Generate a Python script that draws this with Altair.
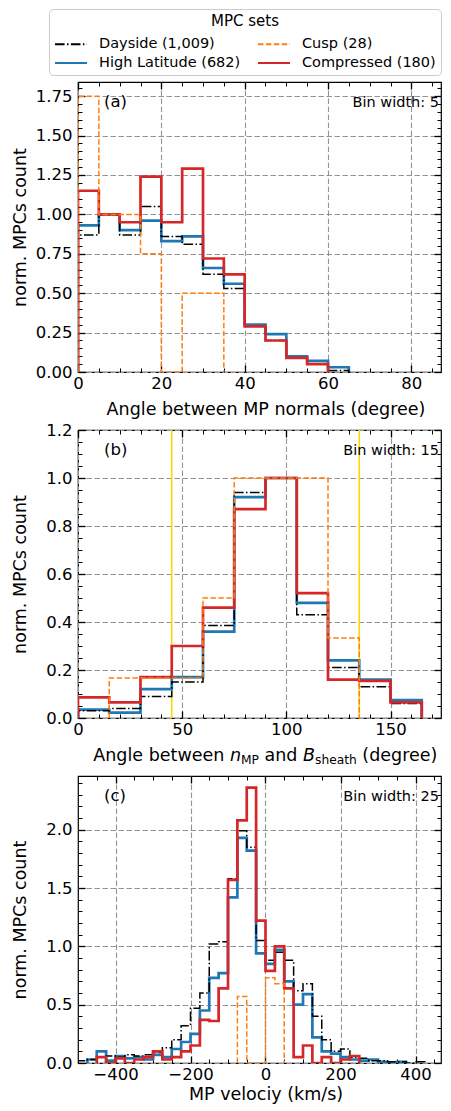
import altair as alt
import pandas as pd

FONT = "DejaVu Sans"

# ---------------- legend / series styling ----------------
SETS = ["Dayside (1,009)", "High Latitude (682)", "Cusp (28)", "Compressed (180)"]
SET_COLORS = ["#000000", "#1f77b4", "#ff7f0e", "#d62728"]
SET_DASHES = [[9.6, 2.4, 1.5, 2.4], [1, 0], [5.5, 2.4], [1, 0]]
SET_WIDTHS = {"Dayside (1,009)": 1.5, "Cusp (28)": 1.5,
              "High Latitude (682)": 2.7, "Compressed (180)": 2.7}
DRAW_ORDER = ["High Latitude (682)", "Dayside (1,009)", "Compressed (180)", "Cusp (28)"]

# ---------------- panel (a): angle between MP normals, bin 5 ----------------
A_EDGE0, A_BINW = 0, 5
A_DAYSIDE = [0.87, 1.00, 0.87, 1.05, 0.86, 0.81, 0.62, 0.53, 0.29, 0.20, 0.09, 0.05, 0.01]
A_HIGHLAT = [0.93, 1.00, 0.90, 0.96, 0.83, 0.86, 0.66, 0.56, 0.30, 0.24, 0.10, 0.07, 0.03]
A_CUSP = [1.75, 1.00, 1.00, 0.75, 0.00, 0.50, 0.50]
A_COMPRESSED = [1.15, 1.00, 0.95, 1.24, 0.95, 1.29, 0.72, 0.62, 0.29, 0.20, 0.09, 0.05]

# ---------------- panel (b): angle between n_MP and B_sheath, bin 15 ----------------
B_EDGE0, B_BINW = 0, 15
B_DAYSIDE = [0.03, 0.04, 0.09, 0.15, 0.385, 0.94, 1.00, 0.43, 0.21, 0.13, 0.06]
B_HIGHLAT = [0.035, 0.022, 0.12, 0.17, 0.36, 0.92, 1.00, 0.48, 0.24, 0.16, 0.075]
B_CUSP = [0.0, 0.167, 0.167, 0.167, 0.50, 1.00, 1.00, 1.00, 0.333]
B_COMPRESSED = [0.086, 0.065, 0.17, 0.30, 0.46, 0.87, 1.00, 0.52, 0.16, 0.155, 0.065]
B_MARKERS = [45, 135]

# ---------------- panel (c): MP velocity, bin 25 (-500 .. 500) ----------------
C_EDGE0, C_BINW = -500, 25
C_DAYSIDE = [0.02, 0.03, 0.05, 0.06, 0.05, 0.07, 0.06, 0.07, 0.09, 0.13,
             0.20, 0.32, 0.47, 0.60, 1.02, 1.04, 1.58, 1.99, 1.85, 1.05,
             0.88, 0.95, 0.88, 0.62, 0.68, 0.40, 0.20, 0.10, 0.12, 0.05,
             0.04, 0.02, 0.02, 0.01, 0.01, 0.00, 0.01, 0.00, 0.00, 0.00]
C_HIGHLAT = [0.00, 0.03, 0.10, 0.02, 0.06, 0.04, 0.05, 0.03, 0.07, 0.05,
             0.12, 0.18, 0.25, 0.45, 0.73, 0.77, 1.42, 1.93, 1.82, 0.94,
             0.85, 0.97, 0.70, 0.50, 0.59, 0.22, 0.10, 0.08, 0.05, 0.03,
             0.02, 0.03, 0.01, 0.00, 0.01, 0.00, 0.00, 0.00, 0.00, 0.00]
C_CUSP = [0.00, 0.00, 0.00, 0.00, 0.00, 0.00, 0.00, 0.00, 0.00, 0.00,
          0.00, 0.00, 0.00, 0.00, 0.00, 0.00, 0.00, 0.57, 0.00, 0.00,
          0.73, 0.68, 0.00, 0.00, 0.00, 0.00, 0.00, 0.00, 0.00, 0.00,
          0.00, 0.00, 0.00, 0.00, 0.00, 0.00, 0.00, 0.00, 0.00, 0.00]
C_COMPRESSED = [0.00, 0.00, 0.05, 0.00, 0.04, 0.00, 0.03, 0.05, 0.10, 0.03,
                0.05, 0.10, 0.15, 0.37, 0.36, 0.64, 1.57, 2.08, 2.36, 1.22,
                0.79, 1.00, 0.64, 0.05, 0.15, 0.00, 0.05, 0.00, 0.03, 0.06,
                0.00, 0.00, 0.00, 0.00, 0.00, 0.00, 0.00, 0.00, 0.00, 0.00]

W = 363
H_A, H_B, H_C = 290, 288, 287

# DejaVu Sans advance widths (font units / 2048) for the rich panel (b) title
ADV = {"A": 1401, "n": 1298, "g": 1300, "l": 569, "e": 1260, "b": 1300, "t": 803,
       "w": 1675, "M": 1767, "P": 1235, "a": 1255, "d": 1300, "s": 1067, "h": 1298,
       "B": 1405, "(": 799, "r": 842, ")": 799, " ": 651}


def tw(s, size):
    return sum(ADV[c] for c in s) / 2048.0 * size


color_scale = alt.Scale(domain=SETS, range=SET_COLORS)
dash_scale = alt.Scale(domain=SETS, range=SET_DASHES)
LEGEND = alt.Legend(
    title="MPC sets", orient="none", legendX=-29, legendY=-73, offset=-5, columns=2,
    symbolType="M-1,0H2.2", symbolSize=400, symbolStrokeWidth=2, symbolOpacity=1,
    labelOffset=23, columnPadding=13, rowPadding=1, padding=5,
    strokeColor="#cccccc", cornerRadius=4, fillColor="white",
    titleAnchor="middle", titleFontSize=15, titleFontWeight="normal", titleFont=FONT,
    titleColor="black", titlePadding=4, labelFont=FONT, labelFontSize=14.5,
    labelColor="black", labelLimit=400)


def step_rows(edge0, binw, values, name):
    nz = [i for i, v in enumerate(values) if v > 0]
    i0, i1 = nz[0], nz[-1]
    rows = [dict(x=edge0 + i0 * binw, y=0.0, o=0, set=name)]
    for k, i in enumerate(range(i0, i1 + 1)):
        rows.append(dict(x=edge0 + i * binw, y=values[i], o=k + 1, set=name))
    rows.append(dict(x=edge0 + (i1 + 1) * binw, y=0.0, o=i1 - i0 + 2, set=name))
    return rows


def text_layer(txt, x, y, size, align="left", style="normal", baseline="alphabetic"):
    return alt.Chart(pd.DataFrame({"k": [1]})).mark_text(
        align=align, baseline=baseline, font=FONT, fontSize=size, fontStyle=style,
        color="black").encode(x=alt.value(x), y=alt.value(y), text=alt.value(txt))


def make_panel(series, edge0, binw, xdom, ydom, xmaj, xmin, ymaj, ymin, yfmt,
               xtitle, tag, binlabel, H, title_y=42, extra=()):
    rows = []
    for name, vals in series.items():
        rows += step_rows(edge0, binw, vals, name)
    df = pd.DataFrame(rows)
    xs = alt.Scale(domain=xdom, nice=False, zero=False)
    ys = alt.Scale(domain=ydom, nice=False, zero=False)
    dummy = pd.DataFrame({"x": [xdom[0]], "y": [ydom[0]]})

    def ax_layer(xaxis, yaxis):
        return alt.Chart(dummy).mark_point(opacity=0).encode(
            x=alt.X("x:Q", scale=xs, axis=xaxis),
            y=alt.Y("y:Q", scale=ys, axis=yaxis))

    main_x = dict(orient="bottom", values=xmaj, format="d", grid=True, gridColor="#939393",
                  gridDash=[5.5, 2.5], gridWidth=1.1, ticks=False, tickSize=0, domain=False,
                  labelPadding=3, labelFontSize=16.5, labelFont=FONT, labelColor="black",
                  labelFlush=False, titleFont=FONT, titleFontSize=17.5,
                  titleFontWeight="normal", titleColor="black", titleY=title_y,
                  titleX=187.5, titleAlign="center", titleBaseline="alphabetic")
    main_x["title"] = xtitle if xtitle else None
    main_y = dict(orient="left", values=ymaj, format=yfmt, grid=True, gridColor="#939393",
                  gridDash=[5.5, 2.5], gridWidth=1.1, ticks=False, tickSize=0, domain=False,
                  labelPadding=6, labelFontSize=16.5, labelFont=FONT, labelColor="black",
                  title="norm. MPCs count", titleFont=FONT, titleFontSize=17.5,
                  titleFontWeight="normal", titleColor="black", titleX=-49, titleY=H / 2,
                  titleAngle=270, titleAlign="center", titleBaseline="bottom")

    def tick_axis(orient, values, size, width):
        return alt.Axis(orient=orient, values=values, labels=False, grid=False, domain=False,
                        ticks=True, tickSize=size, offset=-size, tickWidth=width,
                        tickColor="black", title=None)

    layers = [
        ax_layer(alt.Axis(**main_x), alt.Axis(**main_y)),
        ax_layer(tick_axis("bottom", xmaj, 7, 1.3), tick_axis("left", ymaj, 7, 1.3)),
        ax_layer(tick_axis("bottom", xmin, 4, 1.0), tick_axis("left", ymin, 4, 1.0)),
        ax_layer(tick_axis("top", xmaj, 7, 1.3), tick_axis("right", ymaj, 7, 1.3)),
        ax_layer(tick_axis("top", xmin, 4, 1.0), tick_axis("right", ymin, 4, 1.0)),
    ]
    layers += [e(xs, ys) for e in extra]
    for name in DRAW_ORDER:
        if name not in series:
            continue
        layers.append(
            alt.Chart(df).transform_filter(alt.FieldEqualPredicate(field="set", equal=name))
            .mark_line(interpolate="step-after", strokeWidth=SET_WIDTHS[name], clip=True)
            .encode(
                x=alt.X("x:Q", scale=xs, axis=None),
                y=alt.Y("y:Q", scale=ys, axis=None),
                order=alt.Order("o:Q"),
                color=alt.Color("set:N", scale=color_scale, legend=LEGEND),
                strokeDash=alt.StrokeDash("set:N", scale=dash_scale, legend=LEGEND),
            ))
    layers.append(text_layer(tag, 26, 24.5, 16.5))
    layers.append(text_layer(binlabel, W - 2, 24.5, 14.5, align="right"))
    return alt.layer(*layers).resolve_axis(x="independent", y="independent").properties(
        width=W, height=H)


def minors(step, top, majors_every):
    out = []
    i = 1
    while step * i < top - 1e-9:
        if i % majors_every != 0:
            out.append(round(step * i, 4))
        i += 1
    return out


# ---- panel (a)
pa = make_panel(
    {"Dayside (1,009)": A_DAYSIDE, "High Latitude (682)": A_HIGHLAT,
     "Cusp (28)": A_CUSP, "Compressed (180)": A_COMPRESSED},
    A_EDGE0, A_BINW, [0, 87.12], [0, 1.84],
    [0, 20, 40, 60, 80], [v for v in range(5, 87, 5) if v % 20 != 0],
    [0, 0.25, 0.5, 0.75, 1.0, 1.25, 1.5, 1.75], minors(0.05, 1.84, 5), ".2f",
    "Angle between MP normals (degree)", "(a)", "Bin width: 5", H_A, title_y=42)


# ---- panel (b): yellow marker lines + rich-text x title
def marker_rules(xs, ys):
    return alt.Chart(pd.DataFrame({"x": B_MARKERS})).mark_rule(
        color="#FFD700", strokeWidth=1.6).encode(x=alt.X("x:Q", scale=xs, axis=None))


pb = make_panel(
    {"Dayside (1,009)": B_DAYSIDE, "High Latitude (682)": B_HIGHLAT,
     "Cusp (28)": B_CUSP, "Compressed (180)": B_COMPRESSED},
    B_EDGE0, B_BINW, [0, 174.24], [0, 1.2],
    [0, 50, 100, 150], [v for v in range(10, 174, 10) if v % 50 != 0],
    [0, 0.2, 0.4, 0.6, 0.8, 1.0, 1.2], minors(0.05, 1.2, 4), ".1f",
    None, "(b)", "Bin width: 15", H_B, extra=(marker_rules,))

TS, SS = 17.5, 12.25
segments = [("Angle between", "normal", TS, 0, True),
            ("n", "italic", TS, 0, False),
            ("MP", "normal", SS, 3, True),
            ("and", "normal", TS, 0, True),
            ("B", "italic", TS, 0, False),
            ("sheath", "normal", SS, 3, True),
            ("(degree)", "normal", TS, 0, False)]
space = tw(" ", TS)
total = 0
for s, st, sz, dy, sp in segments:
    total += tw(s, sz) + (space if sp else 0)
xpos = (375 - total) / 2
title_layers = []
for s, st, sz, dy, sp in segments:
    title_layers.append(text_layer(s, xpos, H_B + 43 + dy, sz, style=st))
    xpos += tw(s, sz) + (space if sp else 0)
pb = alt.layer(pb, *title_layers)

# ---- panel (c)
pc = make_panel(
    {"Dayside (1,009)": C_DAYSIDE, "High Latitude (682)": C_HIGHLAT,
     "Cusp (28)": C_CUSP, "Compressed (180)": C_COMPRESSED},
    C_EDGE0, C_BINW, [-500, 468], [0, 2.46],
    [-400, -200, 0, 200, 400], [v for v in range(-450, 468, 50) if v % 200 != 0],
    [0, 0.5, 1.0, 1.5, 2.0], minors(0.1, 2.46, 5), ".1f",
    "MP velociy (km/s)", "(c)", "Bin width: 25", H_C, title_y=36)

chart = alt.vconcat(pa, pb, pc, spacing=58, bounds="flush").properties(
    padding={"left": 2, "top": 0, "right": 0, "bottom": 0}
).configure(font=FONT).configure_view(stroke="black", strokeWidth=1.2)

chart.save("out.html", embed_options={"renderer": "svg", "actions": False})
